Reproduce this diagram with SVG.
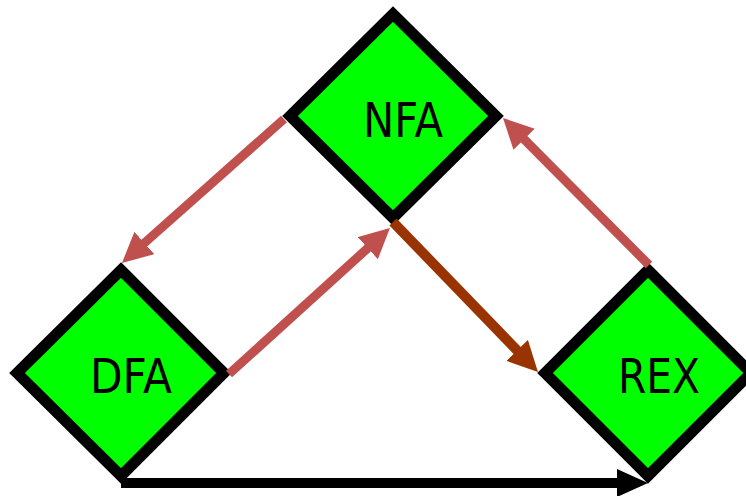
<svg xmlns="http://www.w3.org/2000/svg" width="746" height="496" viewBox="0 0 746 496">
  <style>
    .node { fill: #00FF00; stroke: #000000; stroke-width: 11; stroke-linejoin: miter; }
    .lbl { font-family: "DejaVu Sans", "Liberation Sans", sans-serif; font-size: 48px; fill: #000000; text-anchor: middle; }
    .red { stroke: #C0504D; stroke-width: 9; fill: none; }
    .brown { stroke: #993300; stroke-width: 10; fill: none; }
    .black { stroke: #000000; stroke-width: 10; fill: none; }
  </style>
  <defs>
    <marker id="hRed" viewBox="0 0 30 30" refX="6" refY="15" markerWidth="30" markerHeight="30" markerUnits="userSpaceOnUse" orient="auto">
      <path d="M0,0 L30,15 L0,30 z" fill="#C0504D"/>
    </marker>
    <marker id="hBrown" viewBox="0 0 30 30" refX="6" refY="15" markerWidth="30" markerHeight="30" markerUnits="userSpaceOnUse" orient="auto">
      <path d="M0,0 L30,15 L0,30 z" fill="#993300"/>
    </marker>
    <marker id="hBlack" viewBox="0 0 31 28" refX="7" refY="14" markerWidth="31" markerHeight="28" markerUnits="userSpaceOnUse" orient="auto">
      <path d="M0,0 L31,14 L0,28 z" fill="#000000"/>
    </marker>
  </defs>
  <g id="node-nfa">
    <polygon class="node" points="393,14 496,116 393,218 290,116"/>
    <text class="lbl" x="403" y="137" textLength="80" lengthAdjust="spacingAndGlyphs">NFA</text>
  </g>
  <g id="node-dfa">
    <polygon class="node" points="121,270 224,373 121,476 17,373"/>
    <text class="lbl" x="131" y="393" textLength="82" lengthAdjust="spacingAndGlyphs">DFA</text>
  </g>
  <g id="node-rex">
    <polygon class="node" points="648,270 751,373 648,476 545,373"/>
    <text class="lbl" x="659" y="393" textLength="82" lengthAdjust="spacingAndGlyphs">REX</text>
  </g>
  <g id="connectors">
    <line class="red" x1="284" y1="119" x2="139.9" y2="247" marker-end="url(#hRed)"/>
    <line class="red" x1="229" y1="374" x2="372.2" y2="244.1" marker-end="url(#hRed)"/>
    <line class="brown" x1="393" y1="222" x2="521.3" y2="354.7" marker-end="url(#hBrown)"/>
    <line class="red" x1="649" y1="265" x2="519.9" y2="135" marker-end="url(#hRed)"/>
    <line class="black" x1="121" y1="483" x2="624" y2="483" marker-end="url(#hBlack)"/>
  </g>
</svg>
